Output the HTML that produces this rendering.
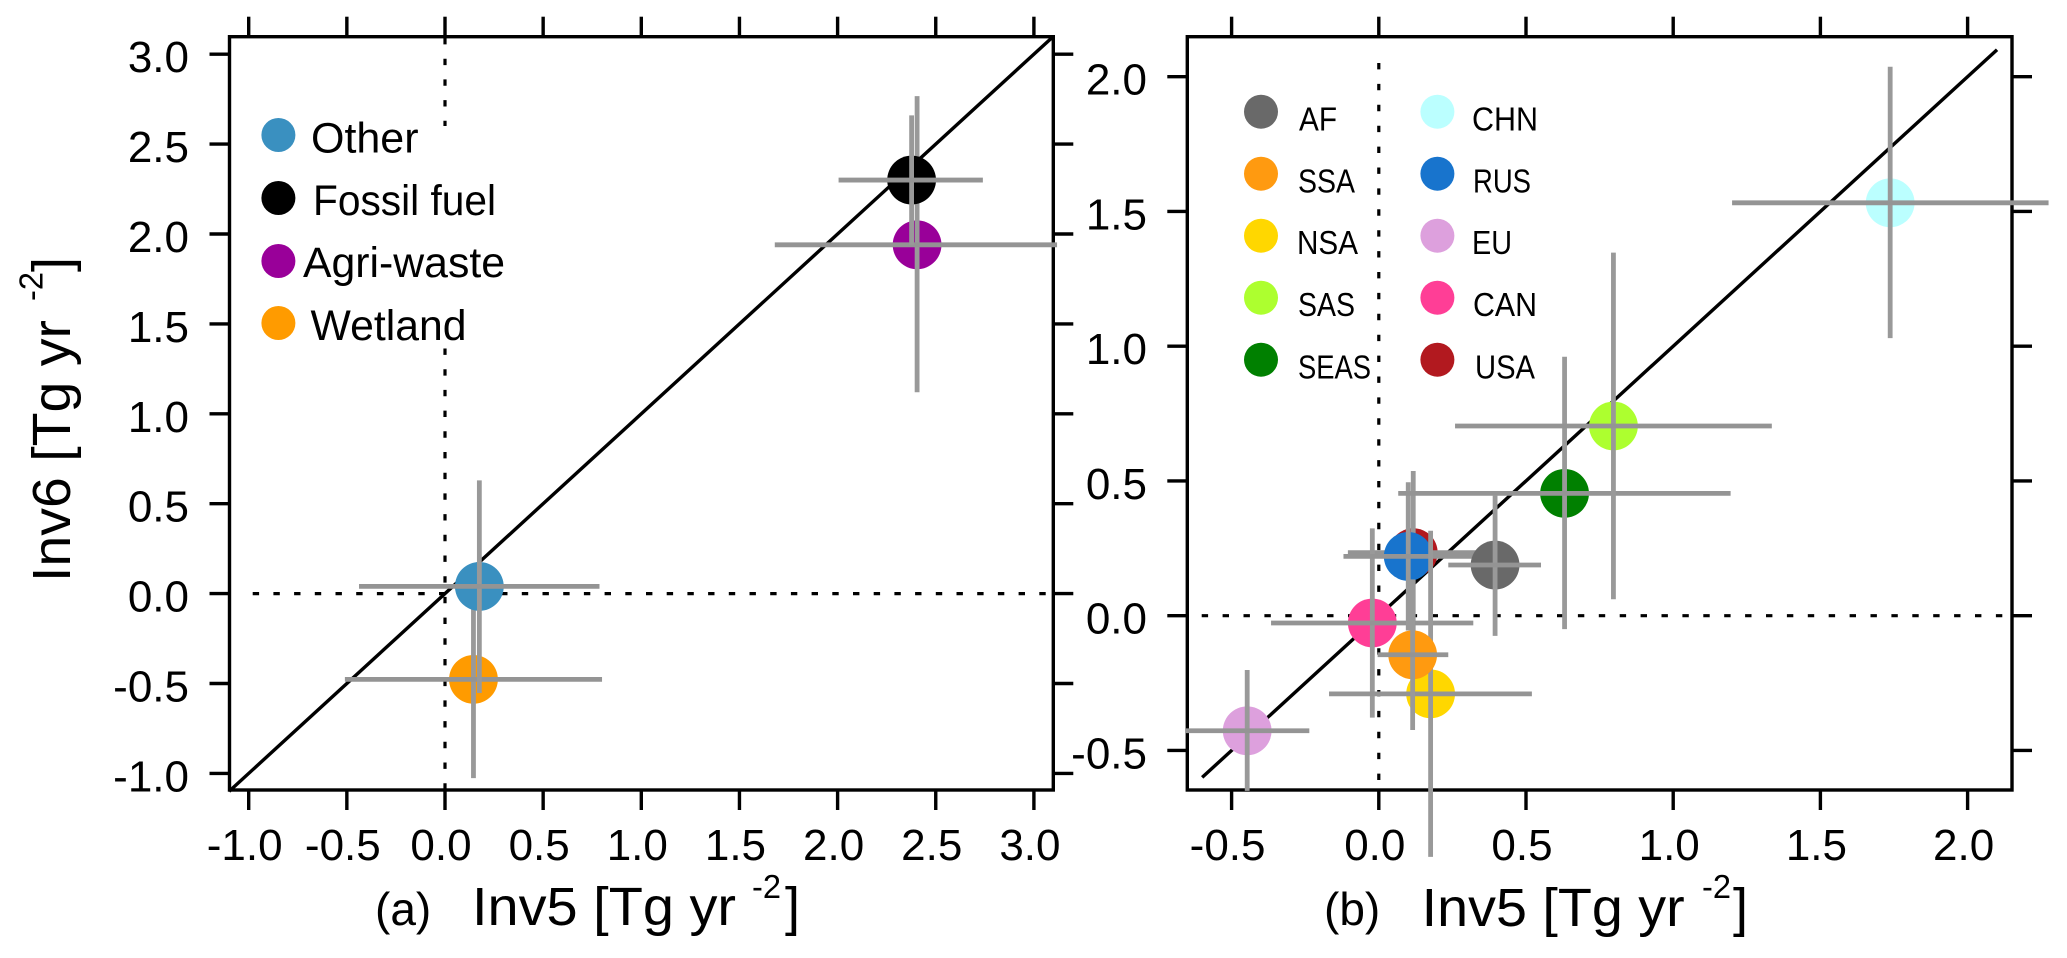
<!DOCTYPE html>
<html lang="en">
<head>
<meta charset="utf-8">
<title>Inv5 vs Inv6 scatter panels</title>
<style>
html,body{margin:0;padding:0;background:#fff;width:2067px;height:958px;overflow:hidden}
svg{display:block}
text{font-family:"Liberation Sans",sans-serif;fill:#000}
</style>
</head>
<body>
<svg id="chart" xmlns="http://www.w3.org/2000/svg" width="2067" height="958" viewBox="0 0 2067 958">
  <rect x="0" y="0" width="2067" height="958" fill="#fff"/>
  <g id="panelA"></g>
  <g id="panelB"></g>

  <g font-size="43">
    <g><circle cx="278.4" cy="135" r="17" fill="#3a90c0"/><text x="311" y="152.7">Other</text></g>
    <g><circle cx="278.4" cy="198" r="17" fill="#000"/><text x="313" y="215" textLength="183" lengthAdjust="spacingAndGlyphs">Fossil fuel</text></g>
    <g><circle cx="278.4" cy="261" r="17" fill="#990099"/><text x="303" y="277" textLength="202" lengthAdjust="spacingAndGlyphs">Agri-waste</text></g>
    <g><circle cx="278.4" cy="323" r="17" fill="#ff9b00"/><text x="310.5" y="340" textLength="156" lengthAdjust="spacingAndGlyphs">Wetland</text></g>
  </g>

  <g font-size="33">
    <g><circle cx="1261" cy="111.7" r="17" fill="#696969"/><text x="1299" y="130.7" textLength="38" lengthAdjust="spacingAndGlyphs">AF</text></g>
    <g><circle cx="1261" cy="173.7" r="17" fill="#ff9a10"/><text x="1298" y="192.3" textLength="57" lengthAdjust="spacingAndGlyphs">SSA</text></g>
    <g><circle cx="1261" cy="235.7" r="17" fill="#ffd700"/><text x="1297" y="254" textLength="61" lengthAdjust="spacingAndGlyphs">NSA</text></g>
    <g><circle cx="1261" cy="297.7" r="17" fill="#adff2f"/><text x="1298" y="316" textLength="57" lengthAdjust="spacingAndGlyphs">SAS</text></g>
    <g><circle cx="1261" cy="359.7" r="17" fill="#008000"/><text x="1298" y="378.3" textLength="73" lengthAdjust="spacingAndGlyphs">SEAS</text></g>
    <g><circle cx="1437.4" cy="111.7" r="17" fill="#bbffff"/><text x="1472" y="130.7" textLength="66" lengthAdjust="spacingAndGlyphs">CHN</text></g>
    <g><circle cx="1437.4" cy="173.7" r="17" fill="#1874cd"/><text x="1473" y="192.3" textLength="58" lengthAdjust="spacingAndGlyphs">RUS</text></g>
    <g><circle cx="1437.4" cy="235.7" r="17" fill="#dda0dd"/><text x="1472" y="254" textLength="40" lengthAdjust="spacingAndGlyphs">EU</text></g>
    <g><circle cx="1437.4" cy="297.7" r="17" fill="#ff3e96"/><text x="1473" y="316" textLength="64" lengthAdjust="spacingAndGlyphs">CAN</text></g>
    <g><circle cx="1437.4" cy="359.7" r="17" fill="#b2191f"/><text x="1475" y="378.3" textLength="60" lengthAdjust="spacingAndGlyphs">USA</text></g>
  </g>

  <g>
    <text x="375" y="925" font-size="46">(a)</text>
    <text x="472" y="925" font-size="54" textLength="264" lengthAdjust="spacingAndGlyphs">Inv5 [Tg yr</text>
    <text x="752" y="898" font-size="33" textLength="29" lengthAdjust="spacingAndGlyphs">-2</text>
    <text x="785" y="925" font-size="54">]</text>
  </g>
  <g>
    <text x="1324" y="925" font-size="46">(b)</text>
    <text x="1421.7" y="926" font-size="54" textLength="263" lengthAdjust="spacingAndGlyphs">Inv5 [Tg yr</text>
    <text x="1702" y="898" font-size="33" textLength="29" lengthAdjust="spacingAndGlyphs">-2</text>
    <text x="1733" y="926" font-size="54">]</text>
  </g>
  <g>
    <text transform="translate(70,582) rotate(-90)" font-size="54" textLength="262" lengthAdjust="spacingAndGlyphs">Inv6 [Tg yr</text>
    <text transform="translate(42.3,301) rotate(-90)" font-size="33" textLength="29" lengthAdjust="spacingAndGlyphs">-2</text>
    <text transform="translate(70,272) rotate(-90)" font-size="54">]</text>
  </g>
</svg>

<script>
// Panel (a): emission sector values (Tg yr-2)
const sectorNames = ["Wetland", "Agri-waste", "Fossil fuel", "Other"];
const sectorInv5 = [0.145, 2.405, 2.377, 0.175];
const sectorInv6 = [-0.477, 1.94, 2.30, 0.04];
const sectorInv5Low = [-0.51, 1.68, 2.005, -0.438];
const sectorInv5High = [0.80, 3.118, 2.74, 0.787];
const sectorInv6Low = [-1.026, 1.12, 1.94, -0.553];
const sectorInv6High = [0.07, 2.767, 2.66, 0.63];
const sectorColors = ["#ff9b00", "#990099", "#000000", "#3a90c0"];

// Panel (b): region values (Tg yr-2)
const regionNames = ["USA", "CAN", "EU", "RUS", "CHN", "SEAS", "SAS", "NSA", "SSA", "AF"];
const regionInv5 = [0.117, -0.022, -0.447, 0.10, 1.737, 0.631, 0.797, 0.176, 0.115, 0.395];
const regionInv6 = [0.234, -0.027, -0.427, 0.22, 1.532, 0.454, 0.704, -0.29, -0.145, 0.188];
const regionInv5Low = [-0.105, -0.366, -0.658, -0.12, 1.20, 0.066, 0.259, -0.169, -0.004, 0.236];
const regionInv5High = [0.339, 0.321, -0.236, 0.32, 2.275, 1.195, 1.335, 0.52, 0.236, 0.551];
const regionInv6Low = [-0.069, -0.378, -0.65, -0.055, 1.03, -0.05, 0.061, -0.895, -0.424, -0.075];
const regionInv6High = [0.537, 0.324, -0.2015, 0.495, 2.037, 0.961, 1.347, 0.315, 0.135, 0.448];
const regionColors = ["#b2191f", "#ff3e96", "#dda0dd", "#1874cd", "#bbffff", "#008000", "#adff2f", "#ffd700", "#ff9a10", "#696969"];

// Tick labels
const ticksA = ["-1.0", "-0.5", "0.0", "0.5", "1.0", "1.5", "2.0", "2.5", "3.0"];
const ticksB = ["-0.5", "0.0", "0.5", "1.0", "1.5", "2.0"];

// Axis functions
const xA = v => 445 + 196.3 * v;
const yA = v => 593.6 - 179.8 * v;
const xB = v => 1378.8 + 294.4 * v;
const yB = v => 615.7 - 269.5 * v;

const NS = "http://www.w3.org/2000/svg";
function make(parent, tag, attrs, text) {
  const el = document.createElementNS(NS, tag);
  for (const k in attrs) el.setAttribute(k, attrs[k]);
  if (text !== undefined) el.textContent = text;
  parent.appendChild(el);
  return el;
}
function slug(s) { return s.toLowerCase().replace(/[^a-z0-9]+/g, "-"); }

function drawDashed(parent, name, x1, y1, x2, y2, period) {
  const el = make(parent, "line", {x1: x1, y1: y1, x2: x2, y2: y2, stroke: "#000", "stroke-width": 3.2, "stroke-dasharray": "6.4 " + (period - 6.4)});
  
  
}

function drawAxes(parent, ticks, xf, yf, box, leftLabelX) {
  const frame = make(parent, "rect", {x: box.l, y: box.t, width: box.r - box.l, height: box.b - box.t, fill: "none", stroke: "#000", "stroke-width": 3.4});
  
  
  ticks.forEach(label => {
    const v = parseFloat(label);
    const px = xf(v), py = yf(v);
    const segs = [
      [px, box.t - 20, px, box.t, "top-tick"],
      [px, box.b, px, box.b + 20, "bottom-tick"],
      [box.l - 20, py, box.l, py, "left-tick"],
      [box.r, py, box.r + 20, py, "right-tick"]
    ];
    segs.forEach(s => {
      const t = make(parent, "line", {x1: s[0], y1: s[1], x2: s[2], y2: s[3], stroke: "#000", "stroke-width": 3.4});
      
      
    });
    const xl = make(parent, "text", {x: px - 4, y: 860, "font-size": 44, "text-anchor": "middle"}, label);
    
    
    const yl = make(parent, "text", {x: leftLabelX, y: py + 18, "font-size": 44, "text-anchor": "end"}, label);
    
    
  });
}

function drawDiagonal(parent, xf, yf, lo, hi) {
  const el = make(parent, "line", {x1: xf(lo), y1: yf(lo), x2: xf(hi), y2: yf(hi), stroke: "#000", "stroke-width": 3.4});
  
  
}

function drawPoints(parent, names, xs, ys, xLow, xHigh, yLow, yHigh, colors, xf, yf) {
  names.forEach((name, i) => {
    const g = make(parent, "g", {});
    
    
    const c = make(g, "circle", {cx: xf(xs[i]), cy: yf(ys[i]), r: 24.4, fill: colors[i]});
    
    
    const v = make(g, "line", {x1: xf(xs[i]), y1: yf(yLow[i]), x2: xf(xs[i]), y2: yf(yHigh[i]), stroke: "#999999", "stroke-width": 4.8});
    
    
    const h = make(g, "line", {x1: xf(xLow[i]), y1: yf(ys[i]), x2: xf(xHigh[i]), y2: yf(ys[i]), stroke: "#949494", "stroke-width": 4.8});
    
    
  });
}

const panelA = document.getElementById("panelA");
const panelB = document.getElementById("panelB");

drawDiagonal(panelA, xA, yA, -1.1, 3.1);
drawDashed(panelA, 'zero-line-vertical-upper', xA(0), 38, xA(0), 126, 20.7);
drawDashed(panelA, 'zero-line-vertical-lower', xA(0), 348.5, xA(0), 790, 20.7);
drawDashed(panelA, 'zero-line-horizontal', 252.7, yA(0), 1047, yA(0), 20.7);
drawAxes(panelA, ticksA, xA, yA, {l: 229.5, r: 1053.3, t: 36.7, b: 790}, 189);
drawPoints(panelA, sectorNames, sectorInv5, sectorInv6, sectorInv5Low, sectorInv5High, sectorInv6Low, sectorInv6High, sectorColors, xA, yA);

drawDiagonal(panelB, xB, yB, -0.6, 2.1);
drawDashed(panelB, 'zero-line-vertical', xB(0), 63, xB(0), 790, 20.9);
drawDashed(panelB, 'zero-line-horizontal', 1201.7, yB(0), 2011, yB(0), 20.9);
drawAxes(panelB, ticksB, xB, yB, {l: 1187.3, r: 2012, t: 36.7, b: 790}, 1147);
drawPoints(panelB, regionNames, regionInv5, regionInv6, regionInv5Low, regionInv5High, regionInv6Low, regionInv6High, regionColors, xB, yB);
</script>
</body>
</html>
